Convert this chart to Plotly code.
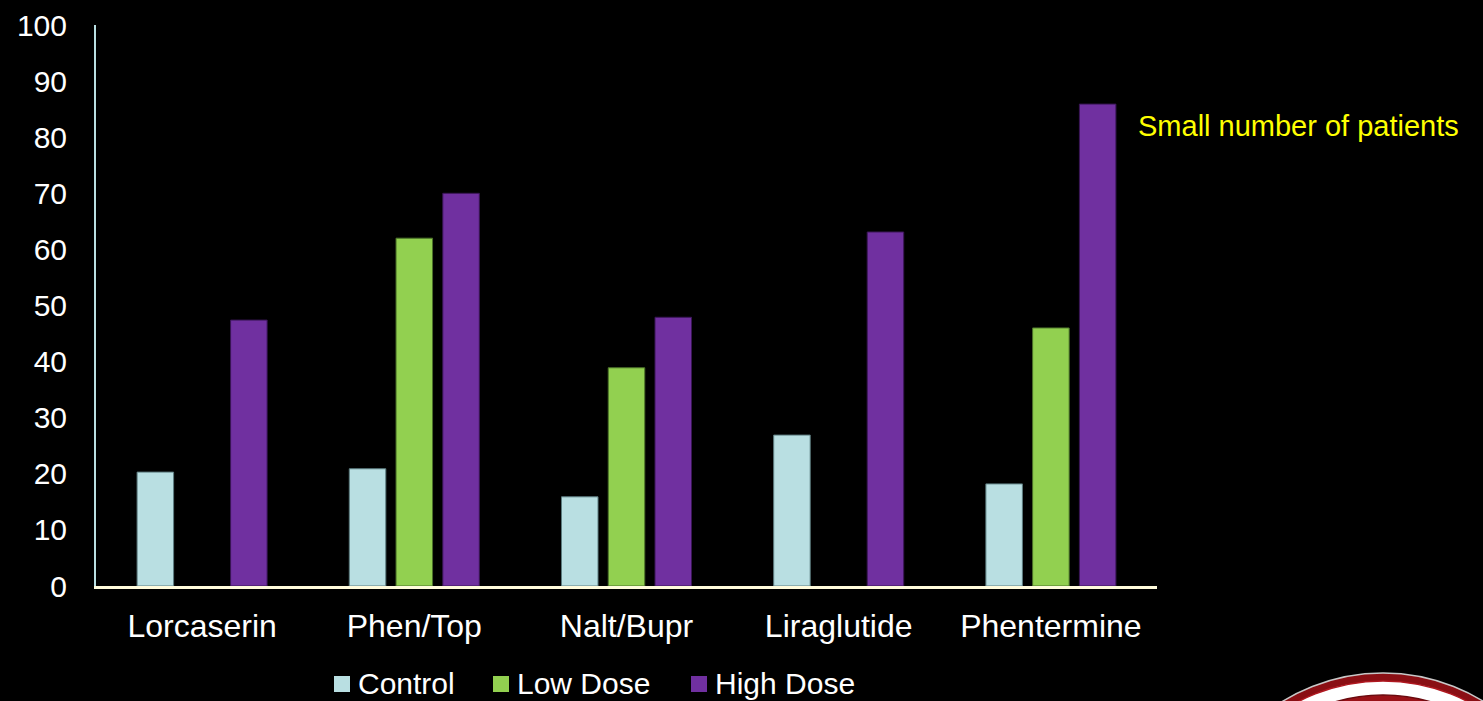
import plotly.graph_objects as go

# Responder rates (%) by drug and dose arm
drugs = ["Lorcaserin", "Phen/Top", "Nalt/Bupr", "Liraglutide", "Phentermine"]
control = [20.3, 20.9, 15.9, 26.9, 18.2]
low_dose = [None, 62.0, 38.9, None, 46.0]
high_dose = [47.4, 70.0, 47.9, 63.1, 85.9]

series_names = ["Control", "Low Dose", "High Dose"]
series_values = [control, low_dose, high_dose]
fill_colors = ["#b9dfe2", "#92d050", "#7030a0"]
edge_colors = ["#5d7d80", "#4b7229", "#3a1656"]

FONT = "Liberation Sans, Arial, sans-serif"

fig = go.Figure()
for name, vals, fill, edge in zip(series_names, series_values, fill_colors, edge_colors):
    fig.add_trace(go.Bar(
        name=name, x=drugs, y=vals, showlegend=False,
        marker=dict(color=fill, line=dict(color=edge, width=1)),
    ))

# Plot-area pixel mapping helpers for legend and decorative shapes
W_PX, H_PX = 1483, 701
L, R, T, B = 96, 1157, 25, 586
def px(x):
    return (x - L) / (R - L)
def py(y):
    return (B - y) / (B - T)

shapes = []
annotations = []

# Legend row under the category labels
legend_swatch_x = [334, 493, 691]
legend_y = 683
for name, fill, sx in zip(series_names, fill_colors, legend_swatch_x):
    shapes.append(dict(type="rect", xref="paper", yref="paper",
                       x0=px(sx), x1=px(sx + 16), y0=py(legend_y + 9), y1=py(legend_y - 7),
                       fillcolor=fill, line=dict(width=0)))
    annotations.append(dict(text=name, xref="paper", yref="paper",
                            x=px(sx + 22), y=py(legend_y), xanchor="left", yanchor="middle",
                            showarrow=False, font=dict(family=FONT, size=30, color="#ffffff")))

# Emblem peeking in at the lower-right corner
cx = 1383
for r, fill, edge in [(192, "#8a0f14", "#c8c8c8"),
                      (184, "#ffffff", "#b01820"),
                      (170, "#9a1218", "#6a0a0e")]:
    top = 673 + (192 - r)
    shapes.append(dict(type="circle", xref="paper", yref="paper",
                       x0=px(cx - r), x1=px(cx + r), y0=py(top + 2 * r), y1=py(top),
                       fillcolor=fill, line=dict(color=edge, width=1.5), layer="above"))

annotations.append(dict(
    text="Small number of patients", xref="paper", yref="paper",
    x=px(1136), y=py(126), xanchor="left", yanchor="middle",
    showarrow=False, font=dict(family=FONT, size=29, color="#ffff00"),
))

fig.update_layout(
    width=W_PX, height=H_PX,
    paper_bgcolor="#000000", plot_bgcolor="#000000",
    margin=dict(l=L, r=W_PX - R, t=T, b=H_PX - B, pad=0, autoexpand=False),
    barmode="group", bargap=0.339, bargroupgap=0.219,
    font=dict(family=FONT, size=30, color="#ffffff"),
    showlegend=False,
    xaxis=dict(showgrid=False, showline=True, linecolor="#fffbdc", linewidth=3,
               ticks="", tickfont=dict(size=32, color="#ffffff"),
               ticklabelstandoff=10, fixedrange=True),
    yaxis=dict(range=[0, 100], dtick=10, showgrid=False, zeroline=False,
               showline=True, linecolor="#b9dfe2", linewidth=2,
               ticks="", tickfont=dict(size=30, color="#ffffff"),
               ticklabelstandoff=21, fixedrange=True),
    shapes=shapes,
    annotations=annotations,
)

fig.write_html("out.html", config={"displayModeBar": False})
